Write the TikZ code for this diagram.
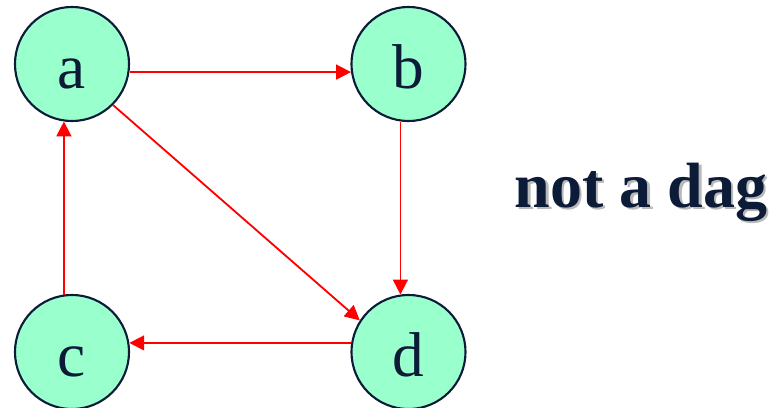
\documentclass[tikz,border=0pt]{standalone}
\usepackage{fontspec}
\setmainfont{Liberation Serif}
\usetikzlibrary{arrows.meta}
\definecolor{mint}{HTML}{99FFCC}
\definecolor{navy}{HTML}{0B1B38}
\newcommand{\shadowtext}[1]{\makebox[0pt][l]{\hspace{1.8pt}\raisebox{-1.8pt}{\color{gray!55}#1}}#1}
\begin{document}
\begin{tikzpicture}[x=0.025cm,y=-0.025cm,
    vertex/.style={circle,draw=navy,fill=mint,line width=1.5pt,minimum size=2.85cm,inner sep=0pt,
        text=navy,font=\fontsize{45}{45}\selectfont,text height=1.2cm,text depth=0cm},
    edge/.style={red,line width=1.3pt,-{Triangle[length=0.37cm,width=0.37cm]}}]
    \useasboundingbox (0,0) rectangle (784,408);
    % Vertices
        \foreach \n/\x/\y in {a/72/64,b/408.5/64,c/72/352,d/408.5/352}{
            \node[vertex] (\n) at (\x,\y) {\n};
        }
    % Edges
        \foreach \s/\t in {a.-8/b.188,b.262/d.98,c.98/a.262,d.171/c.9,a.-45/d.147}{
            \draw[edge] (\s) -- (\t);
        }
    % Label
        \node[anchor=base,text=navy,font=\fontsize{45.5}{45.5}\selectfont\bfseries] (label) at (641,207) {\shadowtext{not a dag}};
\end{tikzpicture}
\end{document}
